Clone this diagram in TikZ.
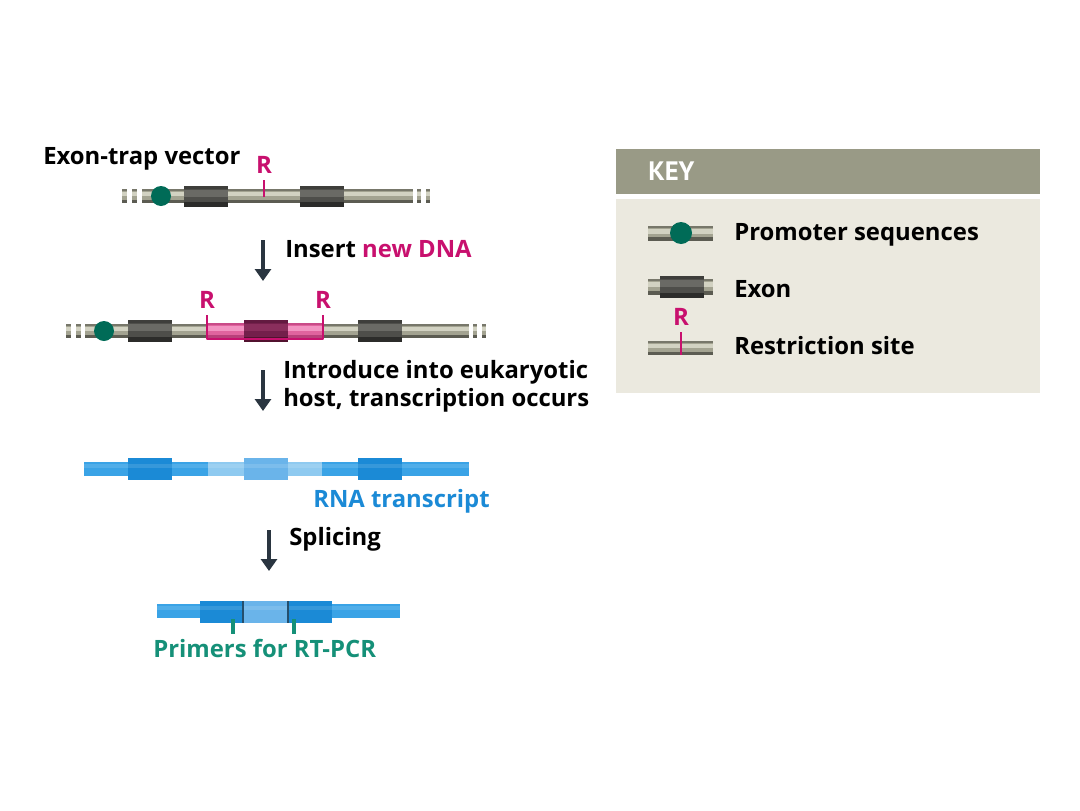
\documentclass[tikz,border=0pt]{standalone}
\usepackage{fontspec}
\setmainfont{Open Sans}
\newfontfamily\keyfont{PT Sans}
\usetikzlibrary{arrows.meta}
\definecolor{barbase}{HTML}{A3A391}
\definecolor{bartop}{HTML}{77776A}
\definecolor{barlite}{HTML}{D2D2C2}
\definecolor{barbot}{HTML}{5C5C52}
\definecolor{exbase}{HTML}{4E4E4A}
\definecolor{extop}{HTML}{3E3E3B}
\definecolor{exlite}{HTML}{6A6A65}
\definecolor{exbot}{HTML}{2C2C2A}
\definecolor{pinkbase}{HTML}{E0639E}
\definecolor{pinktop}{HTML}{C94B88}
\definecolor{pinklite}{HTML}{F294C2}
\definecolor{pinkbot}{HTML}{B8407A}
\definecolor{pexbase}{HTML}{741F4B}
\definecolor{pextop}{HTML}{631A40}
\definecolor{pexlite}{HTML}{8A2E5C}
\definecolor{pexbot}{HTML}{52122F}
\definecolor{promo}{HTML}{006B57}
\definecolor{rsite}{HTML}{C8106E}
\definecolor{rna}{HTML}{3AA3E6}
\definecolor{rnaex}{HTML}{1B8AD6}
\definecolor{rnalt}{HTML}{8FCAF0}
\definecolor{rnaltex}{HTML}{6AB4EA}
\definecolor{primer}{HTML}{159078}
\definecolor{flow}{HTML}{2A3540}
\definecolor{keyhead}{HTML}{999A86}
\definecolor{keybody}{HTML}{EBE9DF}
% barra cilindrica: color, x1, x2, y arriba, y abajo
\newcommand\rod[5]{%
  \fill[#1base] (#2,#4) rectangle (#3,#5);
  \fill[#1top] (#2,#4) rectangle (#3,{#4+0.15*(#5-#4)});
  \fill[#1lite] (#2,{#4+0.2*(#5-#4)}) rectangle (#3,{#4+0.5*(#5-#4)});
  \fill[#1bot] (#2,{#4+0.75*(#5-#4)}) rectangle (#3,#5);
}
\tikzset{
  flowarrow/.style={draw=flow, line width=3pt, -{Triangle[width=12pt,length=9pt]}},
  lbl/.style={anchor=base west, inner sep=0pt, font=\bfseries\fontsize{17.9}{21}\selectfont},
  rlbl/.style={anchor=base, inner sep=0pt, text=rsite, font=\bfseries\fontsize{18}{20}\selectfont},
}

\begin{document}
\begin{tikzpicture}[x=0.75pt, y=-0.75pt, line join=round]
    \useasboundingbox (0,0) rectangle (1080,810);
    % vector: barra 142--413, exones 184--228 y 300--344
    \node[lbl] (vec) at (43,164) {Exon-trap vector};
    \foreach \a/\b in {122/127, 132/137, 142/413, 417/421, 426/430}
        \rod{bar}{\a}{\b}{189}{203};
    \rod{ex}{184}{228}{186}{207}
    \rod{ex}{300}{344}{186}{207}
    \fill[promo] (161,196) circle (10);
    \draw[rsite, line width=2pt] (264,180) -- (264,197);
    \node[rlbl] (r1) at (264,173) {R};
    % paso 1
    \coordinate (a1) at (263,240); \coordinate (b1) at (263,281);
    \draw[flowarrow] (a1) -- (b1);
    \node[lbl] (ins) at (285,257) {Insert \textcolor{rsite}{new DNA}};
    % vector con inserto
    \foreach \a/\b in {66/71, 76/81, 85/469, 473/477, 482/486}
        \rod{bar}{\a}{\b}{324}{338};
    \rod{ex}{128}{172}{320}{342}
    \rod{ex}{358}{402}{320}{342}
    \rod{pink}{207}{323}{323}{339}
    \rod{pex}{244}{288}{320}{342}
    \fill[promo] (104,331) circle (10);
    \draw[rsite, line width=1.6pt] (207,315) -- (207,339) -- (323,339) -- (323,315);
    \node[rlbl] (r2) at (207,308) {R};
    \node[rlbl] (r3) at (323,308) {R};
    % paso 2
    \coordinate (a2) at (263,370); \coordinate (b2) at (263,411);
    \draw[flowarrow] (a2) -- (b2);
    \node[lbl] (intro) at (283,378) {Introduce into eukaryotic};
    \node[lbl] (host) at (283,406) {host, transcription occurs};
    % transcrito de ARN
    \fill[rna] (84,462) rectangle (469,476);
    \fill[rnalt] (208,462) rectangle (322,476);
    \fill[rnaex] (128,458) rectangle (172,480);
    \fill[rnaltex] (244,458) rectangle (288,480);
    \fill[rnaex] (358,458) rectangle (402,480);
    \fill[white, opacity=0.12] (84,464) rectangle (469,468);
    \node[lbl, text=rnaex] (rnat) at (313,507) {RNA transcript};
    % paso 3
    \coordinate (a3) at (269,530); \coordinate (b3) at (269,571);
    \draw[flowarrow] (a3) -- (b3);
    \node[lbl] (spl) at (289,545) {Splicing};
    % ARN maduro
    \fill[rna] (157,604) rectangle (400,618);
    \fill[rnaex] (200,601) rectangle (243,623);
    \fill[rnaltex] (243,601) rectangle (288,623);
    \fill[rnaex] (288,601) rectangle (332,623);
    \fill[white, opacity=0.12] (157,606) rectangle (400,610);
    \draw[flow!70!rnaex, line width=0.8pt] (243,601) -- (243,623) (288,601) -- (288,623);
    \draw[primer, line width=2.4pt] (233,619) -- (233,634) (294,619) -- (294,634);
    \node[lbl, text=primer] (prim) at (153,657) {Primers for RT-PCR};
    % leyenda
    \fill[keyhead] (616,149) rectangle (1040,194);
    \fill[keybody] (616,199) rectangle (1040,393);
    \node[lbl, text=white, font=\keyfont\bfseries\fontsize{20}{22}\selectfont] (key) at (648,180) {KEY};
    \rod{bar}{648}{713}{226}{241}
    \fill[promo] (681,233) circle (11);
    \node[lbl] (kp) at (734,240) {Promoter sequences};
    \rod{bar}{648}{713}{279}{295}
    \rod{ex}{660}{704}{276}{298}
    \node[lbl] (ke) at (734,297) {Exon};
    \rod{bar}{648}{713}{341}{355}
    \draw[rsite, line width=2pt] (681,332) -- (681,355);
    \node[rlbl] (kr) at (681,325) {R};
    \node[lbl] (ks) at (734,354) {Restriction site};
\end{tikzpicture}
\end{document}
